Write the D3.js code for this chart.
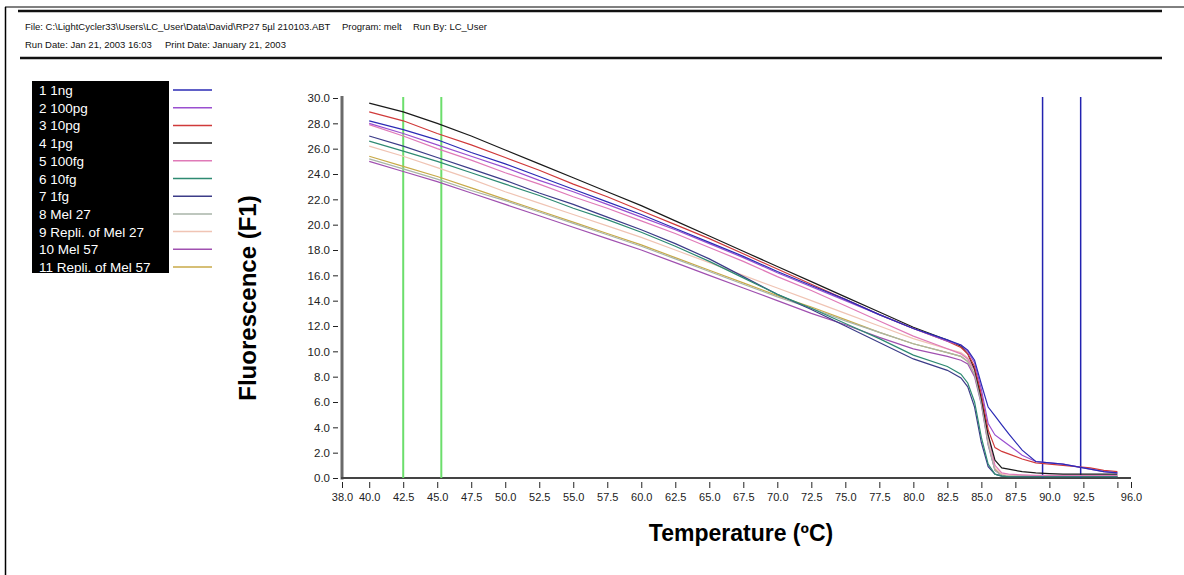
<!DOCTYPE html>
<html>
<head>
<meta charset="utf-8">
<script src="https://cdn.jsdelivr.net/npm/d3@7"></script>
<style>
  body { margin: 0; background: #fff; }
  svg { display: block; font-family: Arial, "Liberation Sans", sans-serif; }
</style>
</head>
<body>
<svg id="chart"></svg>
<script>
// melt curve readings, one value per temperature step
const temps = [40, 42.5, 45, 47.5, 50, 52.5, 55, 57.5, 60, 62.5, 65, 67.5, 70, 72.5, 75, 77.5, 80, 82.5,
  83.5, 84, 84.5, 85, 85.5, 86, 86.5, 87, 88, 89, 90, 91, 92, 93, 94, 95];

const f1ng = [28.2, 27.5, 26.7, 25.7, 24.8, 23.8, 22.8, 21.8, 20.8, 19.7, 18.6, 17.5, 16.3, 15.2, 14.1, 12.9, 11.8, 10.9,
  10.5, 10.1, 9.3, 7.4, 5.6, 4.9, 4.2, 3.5, 2.2, 1.3, 1.2, 1.1, 0.9, 0.7, 0.5, 0.4];
const f100pg = [28.0, 27.2, 26.3, 25.4, 24.5, 23.5, 22.6, 21.6, 20.6, 19.6, 18.5, 17.4, 16.2, 15.1, 14.0, 12.9, 11.8, 10.8,
  10.5, 10.0, 9.1, 7.0, 4.3, 3.4, 3.0, 2.6, 1.8, 1.3, 1.2, 1.1, 0.9, 0.7, 0.5, 0.4];
const f10pg = [28.9, 28.2, 27.2, 26.3, 25.3, 24.3, 23.2, 22.2, 21.1, 20.0, 18.9, 17.7, 16.5, 15.3, 14.1, 12.9, 11.8, 10.8,
  10.3, 9.8, 8.8, 6.6, 3.8, 2.4, 2.1, 1.9, 1.5, 1.2, 1.1, 1.0, 0.9, 0.8, 0.6, 0.5];
const f1pg = [29.6, 28.9, 28.0, 27.0, 25.9, 24.8, 23.7, 22.6, 21.5, 20.3, 19.1, 17.9, 16.7, 15.5, 14.3, 13.1, 11.9, 10.9,
  10.4, 9.8, 8.6, 6.3, 3.4, 1.4, 0.8, 0.7, 0.5, 0.4, 0.35, 0.3, 0.3, 0.3, 0.3, 0.3];
const f100fg = [27.9, 27.0, 26.0, 25.1, 24.1, 23.2, 22.2, 21.3, 20.3, 19.3, 18.2, 17.1, 15.9, 14.8, 13.6, 12.4, 11.2, 10.2,
  9.8, 9.4, 8.5, 6.5, 3.4, 1.0, 0.4, 0.3, 0.25, 0.2, 0.2, 0.2, 0.2, 0.2, 0.2, 0.2];
const f10fg = [26.6, 25.8, 25.0, 24.1, 23.2, 22.3, 21.3, 20.4, 19.4, 18.3, 17.1, 15.8, 14.5, 13.4, 12.2, 11.0, 9.7, 8.8,
  8.2, 7.5, 6.0, 3.2, 1.1, 0.3, 0.15, 0.1, 0.1, 0.1, 0.1, 0.1, 0.1, 0.1, 0.1, 0.1];
const f1fg = [27.0, 26.2, 25.3, 24.4, 23.5, 22.5, 21.6, 20.6, 19.6, 18.5, 17.3, 15.9, 14.5, 13.3, 12.0, 10.7, 9.4, 8.5,
  7.9, 7.2, 5.6, 2.8, 0.9, 0.3, 0.15, 0.1, 0.1, 0.1, 0.1, 0.1, 0.1, 0.1, 0.1, 0.1];
const mel27 = [25.2, 24.4, 23.6, 22.7, 21.9, 21.0, 20.1, 19.2, 18.3, 17.3, 16.3, 15.3, 14.3, 13.4, 12.4, 11.5, 10.6, 9.9,
  9.6, 9.2, 8.2, 5.9, 2.7, 0.6, 0.2, 0.15, 0.15, 0.15, 0.15, 0.15, 0.15, 0.15, 0.15, 0.15];
const mel27rep = [26.2, 25.4, 24.5, 23.6, 22.6, 21.7, 20.8, 19.9, 19.0, 18.0, 17.0, 16.0, 15.0, 14.0, 13.0, 12.0, 11.0, 10.2,
  9.9, 9.5, 8.5, 6.2, 2.9, 0.8, 0.3, 0.2, 0.15, 0.15, 0.15, 0.15, 0.15, 0.15, 0.15, 0.15];
const mel57 = [25.0, 24.2, 23.4, 22.5, 21.6, 20.7, 19.8, 18.9, 18.0, 17.0, 16.0, 15.0, 14.0, 13.0, 12.1, 11.1, 10.2, 9.6,
  9.3, 9.0, 8.0, 5.8, 2.6, 0.6, 0.2, 0.15, 0.15, 0.15, 0.15, 0.15, 0.15, 0.15, 0.15, 0.15];
const mel57rep = [25.4, 24.6, 23.8, 22.9, 22.0, 21.1, 20.2, 19.3, 18.4, 17.4, 16.4, 15.4, 14.4, 13.5, 12.5, 11.5, 10.6, 9.9,
  9.6, 9.2, 8.2, 6.0, 2.8, 0.7, 0.25, 0.15, 0.15, 0.15, 0.15, 0.15, 0.15, 0.15, 0.15, 0.15];

const sampleNames = ['1 1ng', '2 100pg', '3 10pg', '4 1pg', '5 100fg', '6 10fg', '7 1fg',
  '8 Mel 27', '9 Repli. of Mel 27', '10 Mel 57', '11 Repli. of Mel 57'];
const sampleValues = [f1ng, f100pg, f10pg, f1pg, f100fg, f10fg, f1fg, mel27, mel27rep, mel57, mel57rep];

const xTicks = [38, 40, 42.5, 45, 47.5, 50, 52.5, 55, 57.5, 60, 62.5, 65, 67.5, 70, 72.5, 75, 77.5, 80, 82.5,
  85, 87.5, 90, 92.5, 95, 96];
const yTicks = [0, 2, 4, 6, 8, 10, 12, 14, 16, 18, 20, 22, 24, 26, 28, 30];
const greenCursors = [42.5, 45.3];
const blueCursors = [89.5, 92.3];

// colours in the same order as sampleNames
const colors = ['#2b2bb5', '#9a4fd0', '#d03a3a', '#1a1a1a', '#e07ab8', '#2e8a72', '#3c3c88',
  '#a8b4a8', '#f0c4b4', '#a050b0', '#c8aa48'];

const W = 1184, H = 575;
const svg = d3.select('#chart').attr('width', W).attr('height', H);

// page frame
svg.append('line').attr('x1', 5).attr('x2', W).attr('y1', 7).attr('y2', 7)
  .attr('stroke', '#000').attr('stroke-width', 1);
svg.append('line').attr('x1', 5.5).attr('x2', 5.5).attr('y1', 7).attr('y2', H)
  .attr('stroke', '#000').attr('stroke-width', 1.5);
svg.append('line').attr('x1', 18).attr('x2', 1162).attr('y1', 11).attr('y2', 11)
  .attr('stroke', '#111').attr('stroke-width', 2.5);
svg.append('line').attr('x1', 20).attr('x2', 1162).attr('y1', 58).attr('y2', 58)
  .attr('stroke', '#111').attr('stroke-width', 2.5);

const header = svg.append('g').style('font-size', '9.5px').style('fill', '#111');
header.append('text').attr('x', 25).attr('y', 30)
  .text('File: C:\\LightCycler33\\Users\\LC_User\\Data\\David\\RP27 5µl 210103.ABT');
header.append('text').attr('x', 342).attr('y', 30).text('Program: melt');
header.append('text').attr('x', 413).attr('y', 30).text('Run By: LC_User');
header.append('text').attr('x', 25).attr('y', 48).text('Run Date: Jan 21, 2003 16:03');
header.append('text').attr('x', 165).attr('y', 48).text('Print Date:  January 21, 2003');

// legend
const legend = svg.append('g');
legend.append('rect').attr('x', 32).attr('y', 81).attr('width', 137).attr('height', 192).attr('fill', '#000');
sampleNames.forEach((name, i) => {
  const cy = 90 + i * 17.7;
  legend.append('text').attr('x', 39).attr('y', cy + 5)
    .style('font-size', '13.5px').style('fill', '#fff').text(name);
  legend.append('line').attr('x1', 173).attr('x2', 212).attr('y1', cy).attr('y2', cy)
    .attr('stroke', colors[i]).attr('stroke-width', 1.5);
});

const x = d3.scaleLinear().domain([38, 96]).range([342, 1131]);
const y = d3.scaleLinear().domain([0, 30]).range([478, 98]);

// y axis
const yAxis = svg.append('g').attr('transform', 'translate(342,0)')
  .call(d3.axisLeft(y).tickValues(yTicks).tickFormat(d3.format('.1f')));
yAxis.select('.domain').remove();
yAxis.selectAll('.tick line').attr('x1', -4).attr('x2', -9).attr('stroke', '#222');
yAxis.selectAll('.tick text').attr('x', -12).style('font-size', '11.5px').style('fill', '#222')
  .style('font-family', 'Arial, "Liberation Sans", sans-serif');
svg.append('line').attr('x1', 342).attr('x2', 342).attr('y1', 96).attr('y2', 479.5)
  .attr('stroke', '#6a6a6a').attr('stroke-width', 3);

// x axis
const xAxis = svg.append('g').attr('transform', 'translate(0,478)')
  .call(d3.axisBottom(x).tickValues(xTicks).tickFormat(d => d === 95 ? '' : d3.format('.1f')(d)));
xAxis.select('.domain').remove();
xAxis.selectAll('.tick line').attr('y1', 4).attr('y2', 10).attr('stroke', '#222');
xAxis.selectAll('.tick text').attr('y', 15).style('font-size', '11px').style('fill', '#222')
  .style('font-family', 'Arial, "Liberation Sans", sans-serif');
svg.append('line').attr('x1', 341).attr('x2', 1131).attr('y1', 478).attr('y2', 478)
  .attr('stroke', '#444').attr('stroke-width', 2);

// axis titles
svg.append('text').attr('transform', 'translate(256,298) rotate(-90)')
  .attr('text-anchor', 'middle').style('font-size', '24px').style('font-weight', 'bold')
  .text('Fluorescence (F1)');
svg.append('text').attr('x', 741).attr('y', 541)
  .attr('text-anchor', 'middle').style('font-size', '23px').style('font-weight', 'bold')
  .text('Temperature (ºC)');

// cursor lines
greenCursors.forEach(t => {
  svg.append('line').attr('x1', x(t)).attr('x2', x(t)).attr('y1', 97).attr('y2', 478)
    .attr('stroke', '#6cde6c').attr('stroke-width', 2);
});
blueCursors.forEach(t => {
  svg.append('line').attr('x1', x(t)).attr('x2', x(t)).attr('y1', 97).attr('y2', 478)
    .attr('stroke', '#2222b0').attr('stroke-width', 1.5);
});

const line = d3.line()
  .x((d, i) => x(temps[i]))
  .y(d => y(d));

// draw last sample first so 1ng sits on top
for (let i = sampleValues.length - 1; i >= 0; i--) {
  svg.append('path')
    .datum(sampleValues[i])
    .attr('fill', 'none')
    .attr('stroke', colors[i])
    .attr('stroke-width', 1.2)
    .attr('d', line);
}
</script>
</body>
</html>
